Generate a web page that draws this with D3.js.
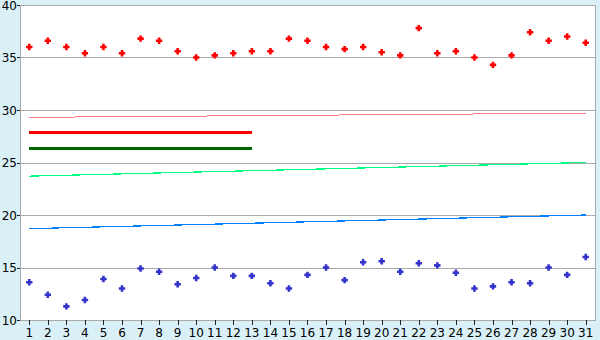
<!DOCTYPE html>
<html><head><meta charset="utf-8">
<script src="https://cdn.jsdelivr.net/npm/d3@7"></script>
<style>
html,body{margin:0;padding:0;background:#d9f0f7;}
svg{display:block;}
</style></head>
<body>
<svg id="c" width="600" height="340"></svg>
<script>
const days = d3.range(1, 32).map(String);
const yTicks = [10, 15, 20, 25, 30, 35, 40];
const redPoints = [36.0,36.6,36.0,35.4,36.0,35.4,36.8,36.6,35.6,35.0,35.2,35.4,35.6,35.6,36.8,36.6,36.0,35.8,36.0,35.5,35.2,37.8,35.4,35.6,35.0,34.3,35.2,37.4,36.6,37.0,36.4];
const bluePoints = [13.6,12.4,11.3,11.9,13.9,13.0,14.9,14.6,13.4,14.0,15.0,14.2,14.2,13.5,13.0,14.3,15.0,13.8,15.5,15.6,14.6,15.4,15.2,14.5,13.0,13.2,13.6,13.5,15.0,14.3,16.0];
// thin trend lines: [start day, start value], [end day, end value]
const pinkLine = [["1", 29.3], ["31", 29.7]];
const greenLine = [["1", 23.7], ["31", 25.0]];
const blueLine = [["1", 18.7], ["31", 20.0]];
// thick horizontal lines
const redBar = [["1", 27.9], ["13", 27.9]];
const darkGreenBar = [["1", 26.3], ["13", 26.3]];

const svg = d3.select("#c");
const L = 20, R = 595, T = 5, B = 320;
const x = d3.scaleBand().domain(days).range([L, R]);
const cx = d => x(d) + x.bandwidth() / 2;
const y = d3.scaleLinear().domain([10, 40]).range([B, T]);

svg.append("rect").attr("x", L).attr("y", T).attr("width", R - L).attr("height", B - T).attr("fill", "#fff");

// grid
svg.append("g").selectAll("line").data(yTicks).join("line")
  .attr("x1", L).attr("x2", R)
  .attr("y1", d => Math.round(y(d)) + 0.5).attr("y2", d => Math.round(y(d)) + 0.5)
  .attr("stroke", "#aaaaaa").attr("stroke-width", 1);
// borders
svg.append("line").attr("x1", L + 0.5).attr("x2", L + 0.5).attr("y1", T).attr("y2", B + 1).attr("stroke", "#aaaaaa");
svg.append("line").attr("x1", R + 0.5).attr("x2", R + 0.5).attr("y1", T).attr("y2", B + 1).attr("stroke", "#aaaaaa");

// y axis ticks & labels
const ya = svg.append("g");
ya.selectAll("line").data(yTicks).join("line")
  .attr("x1", L - 3).attr("x2", L)
  .attr("y1", d => Math.round(y(d)) + 0.5).attr("y2", d => Math.round(y(d)) + 0.5)
  .attr("stroke", "#222");
ya.selectAll("text").data(yTicks).join("text")
  .attr("x", L - 3).attr("y", d => y(d) + 4.5)
  .attr("text-anchor", "end").attr("font-family", "DejaVu Sans, Verdana, sans-serif").attr("font-size", 12)
  .attr("fill", "#000").text(d => d);

// x axis ticks & labels
const xa = svg.append("g");
xa.selectAll("line").data(days).join("line")
  .attr("x1", d => Math.round(cx(d)) + 0.5).attr("x2", d => Math.round(cx(d)) + 0.5)
  .attr("y1", B).attr("y2", B + 5).attr("stroke", "#222");
xa.selectAll("text").data(days).join("text")
  .attr("x", d => cx(d)).attr("y", 337)
  .attr("text-anchor", "middle").attr("font-family", "DejaVu Sans, Verdana, sans-serif").attr("font-size", 12)
  .attr("fill", "#000").text(d => d);

// lines
const line = d3.line().x(d => cx(d[0])).y(d => y(d[1]));
const drawLine = (data, color, w, crisp) => svg.append("path").datum(data)
  .attr("d", line).attr("fill", "none").attr("stroke", color).attr("stroke-width", w)
  .attr("shape-rendering", crisp ? "crispEdges" : "auto");
drawLine(pinkLine, "#ff8080", 1, true);
drawLine(greenLine, "#00ff80", 1.2, true);
drawLine(blueLine, "#0080ff", 1.2, true);
drawLine(redBar, "#ff0000", 3, true);
drawLine(darkGreenBar, "#006600", 3, true);

// points: chunky plus marker
const plus = {
  draw(ctx, size) {
    const a = 3.2, b = 1.3;
    ctx.moveTo(-b, -a); ctx.lineTo(b, -a); ctx.lineTo(b, -b); ctx.lineTo(a, -b);
    ctx.lineTo(a, b); ctx.lineTo(b, b); ctx.lineTo(b, a); ctx.lineTo(-b, a);
    ctx.lineTo(-b, b); ctx.lineTo(-a, b); ctx.lineTo(-a, -b); ctx.lineTo(-b, -b);
    ctx.closePath();
  }
};
const sym = d3.symbol().type(plus);
svg.append("g").selectAll("path").data(redPoints).join("path")
  .attr("d", sym).attr("fill", "#ff0000")
  .attr("transform", (d, i) => `translate(${cx(days[i])},${y(d)})`);
svg.append("g").selectAll("path").data(bluePoints).join("path")
  .attr("d", sym).attr("fill", "#3333cc")
  .attr("transform", (d, i) => `translate(${cx(days[i])},${y(d)})`);
</script>
</body></html>
